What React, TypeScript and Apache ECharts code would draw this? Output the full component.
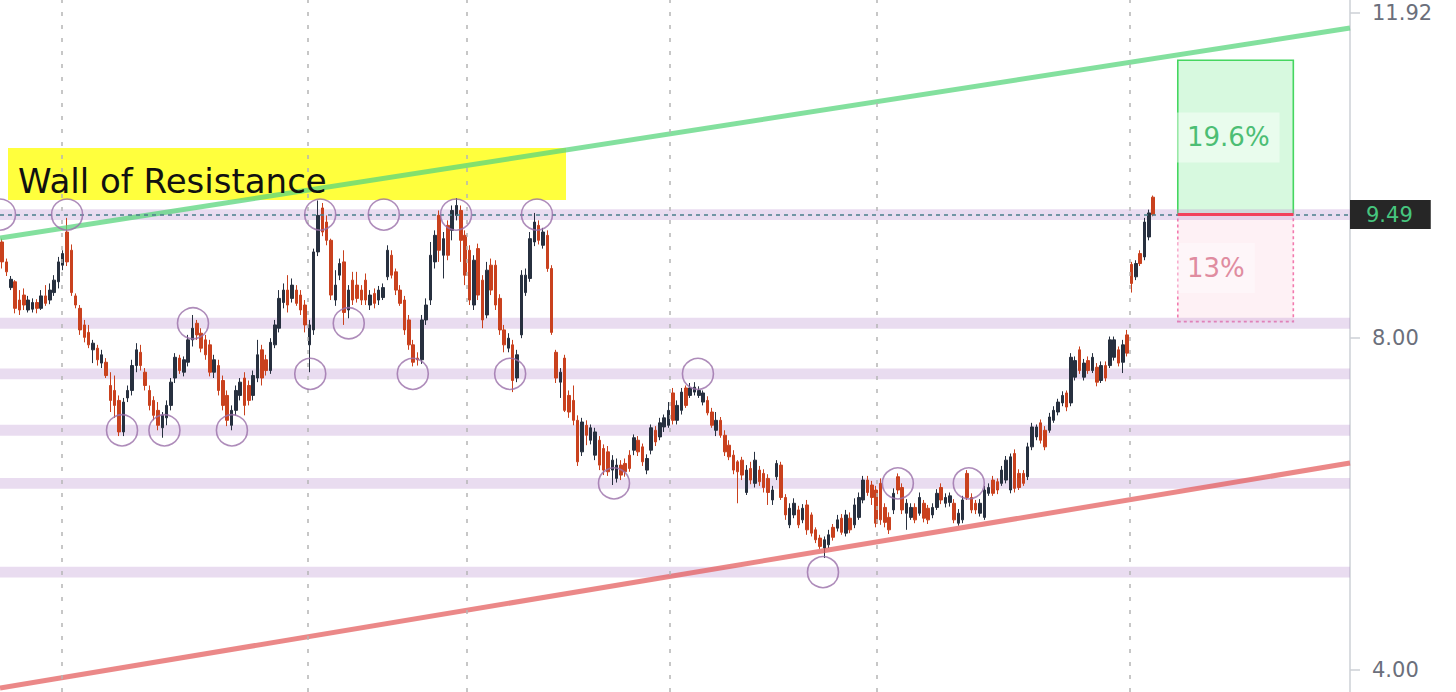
import React, { useEffect, useRef } from "react";
import * as echarts from "echarts";

// ---------- data ----------
const SLOTS = 312; // trading-day slots across the plot (last ~45 are empty space)
const categories: string[] = Array.from({ length: SLOTS }, (_, i) => String(i + 1));

// [open, close, low, high]
const candles: number[][] = [
  [9.16, 8.92, 8.84, 9.20], [8.92, 8.80, 8.75, 8.96], [8.61, 8.71, 8.58, 8.75], [8.68, 8.36, 8.30, 8.70],
  [8.46, 8.34, 8.28, 8.58], [8.52, 8.40, 8.34, 8.60], [8.34, 8.46, 8.31, 8.51], [8.35, 8.43, 8.31, 8.48],
  [8.43, 8.36, 8.30, 8.47], [8.36, 8.51, 8.34, 8.58], [8.51, 8.42, 8.39, 8.64], [8.46, 8.58, 8.41, 8.66],
  [8.55, 8.70, 8.51, 8.76], [8.68, 8.92, 8.60, 8.98], [8.88, 9.02, 8.82, 9.06], [9.28, 8.92, 8.87, 9.45],
  [9.06, 8.55, 8.51, 9.13], [8.51, 8.40, 8.36, 8.54], [8.36, 8.10, 8.04, 8.40], [8.16, 8.01, 7.95, 8.22],
  [8.07, 7.92, 7.88, 8.16], [7.86, 7.94, 7.70, 7.98], [7.88, 7.74, 7.67, 7.92], [7.70, 7.80, 7.64, 7.86],
  [7.71, 7.55, 7.52, 7.76], [7.43, 7.25, 7.11, 7.59], [7.37, 7.19, 7.04, 7.55], [7.25, 6.87, 6.82, 7.31],
  [6.87, 7.23, 6.82, 7.28], [7.28, 7.37, 7.23, 7.43], [7.37, 7.67, 7.31, 7.74], [7.67, 7.86, 7.59, 7.94],
  [7.83, 7.67, 7.61, 7.92], [7.59, 7.43, 7.37, 7.64], [7.37, 7.19, 7.13, 7.43], [7.25, 7.07, 7.01, 7.30],
  [7.13, 6.95, 6.89, 7.23], [6.92, 7.07, 6.80, 7.11], [7.04, 7.19, 6.95, 7.25], [7.19, 7.47, 7.13, 7.52],
  [7.52, 7.77, 7.46, 7.82], [7.76, 7.61, 7.57, 7.80], [7.59, 7.74, 7.54, 7.78], [7.71, 7.98, 7.66, 8.04],
  [7.98, 8.12, 7.90, 8.28], [8.18, 8.04, 7.98, 8.22], [8.06, 7.88, 7.83, 8.12], [7.98, 7.80, 7.74, 8.04],
  [7.92, 7.59, 7.54, 7.98], [7.59, 7.74, 7.52, 7.80], [7.67, 7.37, 7.31, 7.74], [7.49, 7.19, 7.13, 7.55],
  [7.31, 7.01, 6.94, 7.37], [6.95, 7.13, 6.89, 7.19], [7.13, 7.37, 7.07, 7.43], [7.31, 7.47, 7.25, 7.52],
  [7.52, 7.19, 7.07, 7.59], [7.43, 7.25, 7.19, 7.49], [7.31, 7.55, 7.25, 7.61], [7.52, 7.80, 7.47, 7.98],
  [7.86, 7.52, 7.43, 7.92], [7.74, 7.61, 7.55, 7.80], [7.61, 7.95, 7.57, 8.00], [7.92, 8.16, 7.88, 8.22],
  [8.12, 8.48, 8.07, 8.58], [8.43, 8.58, 8.36, 8.66], [8.58, 8.40, 8.31, 8.76], [8.48, 8.64, 8.43, 8.72],
  [8.58, 8.42, 8.39, 8.64], [8.52, 8.34, 8.28, 8.58], [8.40, 8.16, 8.07, 8.46], [7.92, 8.16, 7.59, 8.22],
  [8.10, 9.04, 8.04, 9.08], [9.04, 9.48, 8.99, 9.66], [9.57, 9.28, 9.23, 9.63], [9.40, 9.18, 9.12, 9.48],
  [9.18, 8.52, 8.46, 9.20], [8.46, 8.64, 8.39, 8.82], [8.76, 8.90, 8.70, 8.96], [8.92, 8.31, 8.16, 9.06],
  [8.34, 8.58, 8.24, 8.64], [8.70, 8.46, 8.40, 8.80], [8.64, 8.48, 8.43, 8.80], [8.58, 8.46, 8.40, 8.64],
  [8.70, 8.46, 8.40, 8.78], [8.40, 8.52, 8.34, 8.58], [8.54, 8.42, 8.36, 8.60], [8.46, 8.58, 8.40, 8.63],
  [8.49, 8.61, 8.46, 8.66], [8.74, 9.06, 8.70, 9.12], [9.00, 8.76, 8.72, 9.06], [8.80, 8.58, 8.52, 8.84],
  [8.58, 8.42, 8.39, 8.64], [8.46, 8.10, 8.04, 8.51], [8.22, 7.92, 7.86, 8.28], [7.92, 7.71, 7.66, 7.98],
  [7.76, 7.74, 7.67, 7.83], [7.74, 8.22, 7.69, 8.28], [8.22, 8.40, 8.16, 8.48], [8.46, 9.00, 8.40, 9.16],
  [8.92, 9.24, 8.84, 9.30], [9.48, 9.06, 8.92, 9.54], [9.00, 9.20, 8.72, 9.28], [9.36, 9.00, 8.94, 9.42],
  [9.30, 9.54, 9.18, 9.60], [9.48, 9.60, 9.42, 9.69], [9.54, 9.18, 8.92, 9.60], [9.24, 8.76, 8.64, 9.30],
  [9.06, 8.46, 8.40, 9.12], [8.40, 8.94, 8.34, 9.00], [9.08, 8.52, 8.46, 9.14], [8.70, 8.22, 8.12, 8.76],
  [8.28, 8.82, 8.24, 8.92], [8.88, 8.58, 8.52, 8.96], [8.88, 8.40, 8.34, 8.94], [8.48, 8.10, 8.04, 8.53],
  [8.10, 7.92, 7.83, 8.16], [7.88, 8.00, 7.83, 8.06], [7.92, 7.49, 7.35, 7.98], [7.52, 7.80, 7.47, 7.86],
  [8.04, 8.76, 8.00, 8.82], [8.55, 8.76, 8.51, 8.84], [8.72, 9.20, 8.68, 9.28], [9.16, 9.40, 9.11, 9.51],
  [9.36, 9.18, 9.13, 9.42], [9.12, 9.28, 9.08, 9.33], [9.24, 8.84, 8.80, 9.30], [8.84, 8.07, 8.04, 8.88],
  [7.83, 7.52, 7.46, 7.86], [7.47, 7.59, 7.28, 7.64], [7.76, 7.13, 7.11, 7.80], [7.31, 7.11, 7.04, 7.37],
  [7.25, 7.01, 6.95, 7.43], [7.01, 6.51, 6.46, 7.07], [6.63, 6.99, 6.58, 7.04], [6.95, 6.83, 6.71, 7.01],
  [6.77, 6.92, 6.72, 6.96], [6.59, 6.87, 6.53, 6.92], [6.77, 6.47, 6.41, 6.82], [6.67, 6.41, 6.35, 6.72],
  [6.63, 6.39, 6.34, 6.70], [6.41, 6.53, 6.23, 6.59], [6.31, 6.47, 6.26, 6.55], [6.47, 6.35, 6.29, 6.53],
  [6.49, 6.39, 6.33, 6.55], [6.59, 6.43, 6.39, 6.65], [6.65, 6.80, 6.59, 6.84], [6.77, 6.63, 6.58, 6.82],
  [6.69, 6.51, 6.46, 6.73], [6.41, 6.55, 6.36, 6.60], [6.65, 6.92, 6.60, 6.96], [6.89, 6.75, 6.70, 6.94],
  [6.81, 6.98, 6.77, 7.04], [6.93, 7.04, 6.87, 7.08], [6.95, 7.13, 6.92, 7.23], [7.34, 7.01, 6.96, 7.40],
  [7.01, 7.19, 6.96, 7.25], [7.13, 7.35, 7.08, 7.40], [7.40, 7.19, 7.16, 7.43], [7.31, 7.40, 7.28, 7.46],
  [7.35, 7.41, 7.31, 7.47], [7.31, 7.37, 7.28, 7.42], [7.23, 7.34, 7.19, 7.37], [7.25, 7.10, 7.07, 7.30],
  [7.11, 6.95, 6.92, 7.16], [6.89, 7.01, 6.82, 7.11], [7.01, 6.83, 6.80, 7.05], [6.83, 6.63, 6.58, 6.89],
  [6.71, 6.57, 6.53, 6.77], [6.59, 6.41, 6.36, 6.65], [6.51, 6.39, 6.01, 6.53], [6.53, 6.35, 6.29, 6.57],
  [6.14, 6.41, 6.11, 6.47], [6.43, 6.29, 6.24, 6.51], [6.25, 6.53, 6.20, 6.63], [6.41, 6.27, 6.22, 6.46],
  [6.37, 6.20, 6.14, 6.42], [6.31, 6.14, 5.99, 6.36], [6.05, 6.17, 5.99, 6.22], [6.33, 6.49, 6.29, 6.53],
  [6.47, 6.08, 6.05, 6.51], [6.08, 5.87, 5.81, 6.12], [5.75, 5.95, 5.71, 6.01], [5.87, 6.01, 5.83, 6.07],
  [5.93, 5.75, 5.71, 5.98], [5.81, 5.95, 5.77, 6.00], [5.99, 5.69, 5.63, 6.05], [5.87, 5.65, 5.61, 5.90],
  [5.69, 5.57, 5.53, 5.72], [5.59, 5.49, 5.46, 5.63], [5.47, 5.57, 5.35, 5.61], [5.51, 5.63, 5.47, 5.69],
  [5.72, 5.60, 5.56, 5.76], [5.71, 5.81, 5.67, 5.87], [5.83, 5.66, 5.63, 5.88], [5.65, 5.87, 5.61, 5.93],
  [5.83, 5.69, 5.65, 5.90], [5.75, 5.99, 5.71, 6.07], [5.84, 6.08, 5.81, 6.14], [6.05, 6.29, 6.01, 6.34],
  [6.29, 6.14, 6.10, 6.34], [6.23, 6.08, 5.99, 6.28], [6.17, 5.77, 5.72, 6.22], [6.25, 5.81, 5.75, 6.31],
  [5.96, 5.78, 5.72, 6.01], [5.84, 5.69, 5.64, 5.90], [5.93, 6.13, 5.88, 6.19], [6.33, 6.17, 6.12, 6.37],
  [6.20, 5.93, 5.88, 6.25], [5.89, 6.01, 5.69, 6.06], [5.84, 5.96, 5.81, 6.01], [5.96, 5.81, 5.77, 6.01],
  [5.89, 6.08, 5.86, 6.14], [6.01, 5.83, 5.78, 6.05], [5.95, 5.81, 5.76, 5.99], [5.87, 5.96, 5.83, 6.01],
  [5.96, 6.13, 5.93, 6.18], [6.20, 6.05, 6.00, 6.25], [6.01, 6.08, 5.96, 6.13], [6.02, 6.10, 5.97, 6.14],
  [6.01, 5.81, 5.77, 6.06], [5.77, 5.89, 5.74, 5.94], [5.81, 6.05, 5.77, 6.10], [6.37, 6.08, 6.05, 6.41],
  [6.08, 5.93, 5.89, 6.13], [6.01, 5.93, 5.88, 6.05], [5.89, 6.01, 5.85, 6.06], [5.84, 6.17, 5.81, 6.22],
  [6.13, 6.20, 6.10, 6.25], [6.29, 6.13, 6.10, 6.34], [6.27, 6.17, 6.12, 6.31], [6.25, 6.41, 6.22, 6.46],
  [6.29, 6.53, 6.25, 6.58], [6.17, 6.57, 6.13, 6.61], [6.61, 6.19, 6.14, 6.66], [6.37, 6.20, 6.17, 6.42],
  [6.37, 6.25, 6.22, 6.41], [6.33, 6.69, 6.29, 6.74], [6.69, 6.93, 6.65, 6.98], [6.81, 6.93, 6.77, 6.96],
  [6.98, 6.77, 6.73, 7.02], [6.89, 6.69, 6.65, 6.94], [6.89, 7.05, 6.86, 7.10], [7.01, 7.13, 6.98, 7.18],
  [7.11, 7.23, 7.07, 7.27], [7.22, 7.31, 7.18, 7.36], [7.34, 7.17, 7.12, 7.37], [7.22, 7.77, 7.18, 7.82],
  [7.53, 7.73, 7.49, 7.78], [7.86, 7.61, 7.57, 7.90], [7.53, 7.70, 7.49, 7.75], [7.73, 7.61, 7.57, 7.78],
  [7.61, 7.77, 7.58, 7.82], [7.65, 7.47, 7.42, 7.70], [7.49, 7.67, 7.46, 7.72], [7.67, 7.52, 7.48, 7.72],
  [7.67, 7.98, 7.64, 8.02], [7.77, 7.98, 7.73, 8.02], [7.86, 7.70, 7.66, 7.90], [7.71, 7.92, 7.58, 7.98],
  [8.04, 7.82, 7.78, 8.10], [8.89, 8.66, 8.55, 8.92], [8.74, 8.90, 8.70, 8.94], [9.02, 8.90, 8.87, 9.06],
  [8.98, 9.40, 8.94, 9.45], [9.22, 9.51, 9.18, 9.55], [9.70, 9.49, 9.47, 9.72],
];

const yTickValues = [4, 8, 11.92];
const yMin = 3.735;
const yMax = 12.077;
const lastPrice = 9.49;
const levels = [9.49, 8.18, 7.57, 6.89, 6.25, 5.18];
const levelHalfWidth = 0.066;
const resistanceTrend = [[0, 9.207], [SLOTS, 11.739]];
const supportTrend = [[0, 3.783], [SLOTS, 6.495]];
const monthBreaks = [14.3, 71.2, 107.9, 154.8, 202.7, 261.2];
const pivots = [
  [0, 9.49], [15.5, 9.49], [28.2, 6.89], [38.0, 6.89], [44.6, 8.18], [53.6, 6.89],
  [71.7, 7.57], [74.0, 9.49], [80.6, 8.18], [88.7, 9.49], [95.4, 7.57], [105.4, 9.49],
  [117.9, 7.57], [124.1, 9.49], [141.9, 6.25], [161.3, 7.57], [190.2, 5.18], [207.5, 6.25], [223.9, 6.25],
];
const targetPrice = 11.35;
const stopPrice = 8.2;
const planX = [272.2, 298.9];
const targetLabel = "19.6%";
const stopLabel = "13%";
const bannerText = "Wall of Resistance";

const UP = "#27303f";
const DOWN = "#c9411e";
const FONT = "DejaVu Sans";

export default function App() {
  const ref = useRef<HTMLDivElement>(null);

  useEffect(() => {
    if (!ref.current) return;
    const chart = echarts.init(ref.current, undefined, { renderer: "svg" });
    const option: any = {
      animation: false,
      backgroundColor: "#ffffff",
      grid: { left: 0, right: 106, top: 0, bottom: 0, containLabel: false },
      xAxis: [
        { type: "category", data: categories, boundaryGap: true, show: false },
        { type: "value", min: 0, max: SLOTS, show: false },
      ],
      yAxis: {
        type: "value",
        position: "right",
        min: yMin,
        max: yMax,
        splitLine: { show: false },
        axisLine: { show: true, onZero: false, lineStyle: { color: "#cdd0d6", width: 1.5 } },
        axisTick: { show: true, customValues: yTickValues, length: 10, lineStyle: { color: "#cdd0d6", width: 1.5 } },
        axisLabel: {
          show: true,
          customValues: yTickValues,
          formatter: (v: number) => v.toFixed(2),
          margin: 22,
          color: "#6b6f7b",
          fontSize: 21,
          fontFamily: FONT,
        },
      },
      graphic: [
        {
          type: "rect",
          z: 1,
          shape: { x: 8, y: 148, width: 558, height: 52 },
          style: { fill: "#ffff3d" },
        },
        {
          type: "text",
          z: 10,
          x: 18,
          y: 181,
          style: { text: bannerText, fill: "#111111", fontSize: 34, fontFamily: FONT, verticalAlign: "middle" },
        },
      ],
      series: [
        {
          type: "line",
          xAxisIndex: 1,
          data: [],
          z: 1,
          silent: true,
          markLine: {
            silent: true,
            symbol: ["none", "none"],
            label: { show: false },
            lineStyle: { color: "#b5b5b5", width: 1.5, type: [4, 9] },
            data: monthBreaks.map((x) => ({ xAxis: x })),
          },
        },
        {
          type: "candlestick",
          xAxisIndex: 0,
          data: candles,
          barWidth: 3,
          z: 2,
          itemStyle: { color: UP, color0: DOWN, borderColor: UP, borderColor0: DOWN, borderWidth: 1 },
        },
        {
          type: "line",
          xAxisIndex: 1,
          data: resistanceTrend,
          symbol: "none",
          z: 3,
          lineStyle: { color: "#5ad67d", width: 5, opacity: 0.75 },
        },
        {
          type: "line",
          xAxisIndex: 1,
          data: supportTrend,
          symbol: "none",
          z: 3,
          lineStyle: { color: "#e35a5a", width: 5, opacity: 0.72 },
        },
        {
          type: "line",
          xAxisIndex: 1,
          data: [],
          z: 3,
          markArea: {
            silent: true,
            data: [
              [
                {
                  xAxis: planX[0],
                  yAxis: lastPrice,
                  itemStyle: { color: "rgba(110,235,140,0.28)", borderColor: "#45d660", borderWidth: 1.6 },
                  label: {
                    show: true,
                    position: "insideLeft",
                    distance: 0,
                    formatter: targetLabel,
                    color: "#4cbe74",
                    fontSize: 26,
                    fontFamily: FONT,
                    backgroundColor: "rgba(255,255,255,0.45)",
                    padding: [12, 10, 12, 10],
                  },
                },
                { xAxis: planX[1], yAxis: targetPrice },
              ],
              [
                {
                  xAxis: planX[0],
                  yAxis: stopPrice,
                  itemStyle: {
                    color: "rgba(245,150,180,0.13)",
                    borderColor: "#f27aae",
                    borderWidth: 1.6,
                    borderType: [3, 3],
                  },
                  label: {
                    show: true,
                    position: "insideLeft",
                    distance: 0,
                    formatter: stopLabel,
                    color: "#e08ca0",
                    fontSize: 26,
                    fontFamily: FONT,
                    backgroundColor: "rgba(255,255,255,0.4)",
                    padding: [12, 10, 12, 10],
                  },
                },
                { xAxis: planX[1], yAxis: lastPrice },
              ],
            ],
          },
        },
        {
          type: "line",
          xAxisIndex: 1,
          data: [],
          z: 4,
          markArea: {
            silent: true,
            itemStyle: { color: "rgba(186,146,208,0.32)" },
            data: levels.map((v) => [{ yAxis: v - levelHalfWidth }, { yAxis: v + levelHalfWidth }]),
          },
        },
        {
          type: "line",
          xAxisIndex: 1,
          data: [
            [planX[0], lastPrice],
            [planX[1], lastPrice],
          ],
          symbol: "none",
          z: 5,
          lineStyle: { color: "#f2405c", width: 3 },
        },
        {
          type: "scatter",
          xAxisIndex: 1,
          data: pivots,
          symbol: "circle",
          symbolSize: 31,
          z: 6,
          itemStyle: { color: "rgba(0,0,0,0)", borderColor: "#9a6fa9", borderWidth: 1.6 },
        },
        {
          type: "line",
          xAxisIndex: 1,
          data: [],
          z: 7,
          markLine: {
            silent: true,
            symbol: ["none", "none"],
            lineStyle: { color: "#4a7d8b", width: 1.5, type: [4, 4] },
            label: {
              show: true,
              position: "end",
              distance: 0,
              formatter: lastPrice.toFixed(2),
              backgroundColor: "#262626",
              color: "#46c67f",
              fontSize: 21,
              fontFamily: FONT,
              padding: [4, 18, 4, 16],
            },
            data: [{ yAxis: lastPrice }],
          },
        },
      ],
    };
    chart.setOption(option);
    return () => chart.dispose();
  }, []);

  return <div ref={ref} style={{ position: "absolute", left: 0, top: 0, width: 1456, height: 692 }} />;
}
